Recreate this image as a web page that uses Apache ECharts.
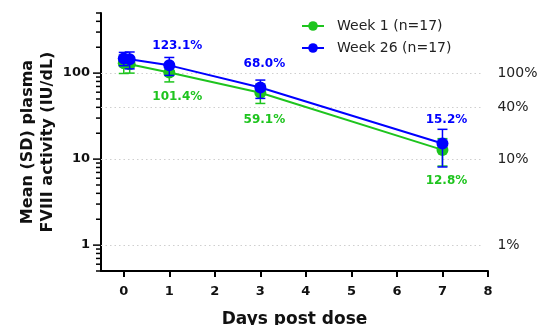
<!DOCTYPE html>
<html>
<head>
<meta charset="utf-8">
<script src="https://cdn.jsdelivr.net/npm/echarts@6/dist/echarts.min.js"></script>
<style>
  html, body { margin: 0; padding: 0; background: #fff; }
  #chart { width: 539px; height: 325px; }
</style>
</head>
<body>
<div id="chart"></div>
<script>
// Sampling times (days post dose)
const days = [0, 0.13, 1, 3, 7];

// Week 1 (n=17): mean and SD limits of FVIII activity (IU/dL)
const week1Mean = [130, 127, 101.4, 59.1, 12.8];
const week1Low  = [99, 100, 79, 44.4, 8.3];
const week1High = [161, 154, 124, 73.8, 17.3];

// Week 26 (n=17)
const week26Mean = [148, 145, 123.1, 68.0, 15.2];
const week26Low  = [122, 112, 94, 50.8, 8.1];
const week26High = [174, 176, 152, 83, 22.2];

// Percent labels shown next to points (null = no label)
const week1Labels  = [null, null, '101.4%', '59.1%', '12.8%'];
const week26Labels = [null, null, '123.1%', '68.0%', '15.2%'];

// Reference levels drawn as dotted lines with labels on the right
const refLevels = [100, 40, 10, 1];
const refLabels = ['100%', '40%', '10%', '1%'];

// Y axis tick values (log scale): majors and minors
const yMajorTicks = [1, 10, 100];
const yMinorTicks = [0.5, 0.6, 0.7, 0.8, 0.9, 2, 3, 4, 5, 6, 7, 8, 9,
                     20, 30, 40, 50, 60, 70, 80, 90, 200, 300, 400, 500];
const xTicks = [0, 1, 2, 3, 4, 5, 6, 7, 8];

const GREEN = '#1ec41e';
const BLUE = '#0000ff';
const FONT = 'DejaVu Sans';

// Fine placement of the percent labels (pixel nudges per point)
const labelNudge = {
  top:    [[0, 0], [0, 0], [8, 3], [4, -2], [4, -2]],
  bottom: [[0, 0], [0, 0], [8, 0], [4, 3], [4, 7]]
};

function pointData(means, labels, color, pos) {
  return days.map((d, i) => {
    const item = { value: [d, means[i]] };
    if (labels[i]) {
      item.label = {
        show: true,
        formatter: labels[i],
        position: pos,
        distance: pos === 'top' ? 10 : 12,
        offset: labelNudge[pos][i],
        color: color,
        fontFamily: FONT,
        fontWeight: 'bold',
        fontSize: 12
      };
    }
    return item;
  });
}

function errorBars(color, lows, highs, z) {
  return {
    type: 'custom',
    z: z,
    silent: true,
    data: days.map((d, i) => [d, lows[i], highs[i]]),
    encode: { x: 0, y: [1, 2] },
    renderItem: function (params, api) {
      const x = api.value(0);
      const lo = api.coord([x, api.value(1)]);
      const hi = api.coord([x, api.value(2)]);
      const w = 5;
      const st = { stroke: color, lineWidth: 1.5 };
      return {
        type: 'group',
        children: [
          { type: 'line', shape: { x1: lo[0], y1: lo[1], x2: hi[0], y2: hi[1] }, style: st },
          { type: 'line', shape: { x1: lo[0] - w, y1: lo[1], x2: lo[0] + w, y2: lo[1] }, style: st },
          { type: 'line', shape: { x1: hi[0] - w, y1: hi[1], x2: hi[0] + w, y2: hi[1] }, style: st }
        ]
      };
    }
  };
}

// Y axis ticks drawn outward from the axis line
function yTickSeries(values, len) {
  return {
    type: 'custom',
    silent: true,
    clip: false,
    z: 5,
    data: values.map(v => [-0.5, v]),
    encode: { x: 0, y: 1 },
    renderItem: function (params, api) {
      const p = api.coord([api.value(0), api.value(1)]);
      return {
        type: 'line',
        shape: { x1: p[0] - len, y1: p[1], x2: p[0], y2: p[1] },
        style: { stroke: '#000', lineWidth: 1.5 }
      };
    }
  };
}

const refLineData = refLevels.map((v, i) => [
  { coord: [-0.5, v], label: { formatter: refLabels[i] } },
  { coord: [7.9, v] }
]);

const chart = echarts.init(document.getElementById('chart'), null, { renderer: 'canvas' });

chart.setOption({
  animation: false,
  backgroundColor: '#fff',
  grid: { left: 101, right: 51, top: 13, bottom: 54, containLabel: false, outerBoundsMode: 'none' },
  legend: {
    orient: 'vertical',
    left: 296,
    top: 14,
    itemWidth: 22,
    itemHeight: 12,
    itemGap: 8,
    textStyle: { fontFamily: FONT, fontSize: 14, color: '#222', padding: [0, 0, 0, 8] },
    data: ['Week 1 (n=17)', 'Week 26 (n=17)']
  },
  xAxis: {
    type: 'value',
    min: -0.5,
    max: 8,
    name: 'Days post dose',
    nameLocation: 'middle',
    nameGap: 40,
    nameMoveOverlap: false,
    nameTextStyle: { fontFamily: FONT, fontWeight: 'bold', fontSize: 17, color: '#111' },
    axisLine: { show: true, onZero: false, lineStyle: { color: '#000', width: 2 } },
    axisTick: { show: true, length: 6, lineStyle: { color: '#000', width: 2 }, customValues: xTicks },
    axisLabel: { margin: 14, fontFamily: FONT, fontWeight: 'bold', fontSize: 13, color: '#111', customValues: xTicks },
    splitLine: { show: false }
  },
  yAxis: {
    type: 'log',
    logBase: 10,
    min: 0.5,
    max: 500,
    name: 'Mean (SD) plasma\nFVIII activity (IU/dL)',
    nameLocation: 'middle',
    nameGap: 43,
    nameMoveOverlap: false,
    nameTextStyle: { fontFamily: FONT, fontWeight: 'bold', fontSize: 16, lineHeight: 20, color: '#111' },
    axisLine: { show: true, onZero: false, lineStyle: { color: '#000', width: 2 } },
    axisTick: { show: false },
    axisLabel: {
      margin: 11,
      fontFamily: FONT, fontWeight: 'bold', fontSize: 13, color: '#111',
      showMinLabel: false, showMaxLabel: false,
      formatter: v => (yMajorTicks.some(t => Math.abs(t - v) < 1e-6) ? String(v) : '')
    },
    splitLine: { show: false }
  },
  series: [
    yTickSeries(yMajorTicks, 8),
    yTickSeries(yMinorTicks, 5),
    errorBars(GREEN, week1Low, week1High, 2),
    {
      name: 'Week 1 (n=17)',
      type: 'line',
      z: 3,
      color: GREEN,
      symbol: 'circle',
      symbolSize: 12,
      lineStyle: { width: 2, color: GREEN },
      itemStyle: { color: GREEN },
      data: pointData(week1Mean, week1Labels, GREEN, 'bottom'),
      markLine: {
        silent: true,
        symbol: 'none',
        z: 1,
        lineStyle: { type: [1.5, 3], color: '#cfcfcf', width: 1 },
        label: { position: 'end', distance: 14, fontFamily: FONT, fontSize: 14, color: '#222' },
        data: refLineData
      }
    },
    errorBars(BLUE, week26Low, week26High, 4),
    {
      name: 'Week 26 (n=17)',
      type: 'line',
      z: 5,
      color: BLUE,
      symbol: 'circle',
      symbolSize: 12,
      lineStyle: { width: 2, color: BLUE },
      itemStyle: { color: BLUE },
      data: pointData(week26Mean, week26Labels, BLUE, 'top')
    }
  ]
});
</script>
</body>
</html>
